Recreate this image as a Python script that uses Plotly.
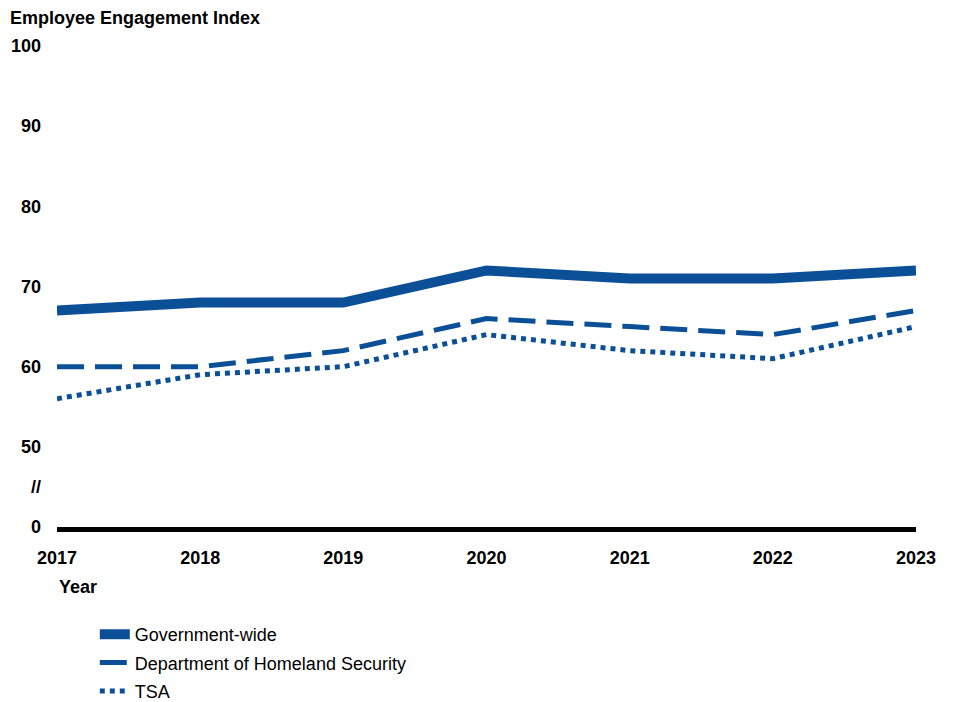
import plotly.graph_objects as go

years = [2017, 2018, 2019, 2020, 2021, 2022, 2023]
gov_wide = [67, 68, 68, 72, 71, 71, 72]
dhs = [60, 60, 62, 66, 65, 64, 67]
tsa = [56, 59, 60, 64, 62, 61, 65]

y_tickvals = [40, 45, 50, 60, 70, 80, 90, 100]
y_ticktext = ["0", "//", "50", "60", "70", "80", "90", "100"]

BLUE = "#0b4f96"
FONT = "Liberation Sans, Arial, sans-serif"

fig = go.Figure()
fig.add_trace(go.Scatter(x=years, y=gov_wide, mode="lines", name="Government-wide",
                         legendgroup="g0", line=dict(color=BLUE, width=10)))
fig.add_trace(go.Scatter(x=years, y=dhs, mode="lines", name="Department of Homeland Security",
                         legendgroup="g1", line=dict(color=BLUE, width=5, dash="27px,11px")))
fig.add_trace(go.Scatter(x=years, y=tsa, mode="lines", name="TSA",
                         legendgroup="g2", line=dict(color=BLUE, width=5, dash="5px,5px")))

fig.update_layout(
    width=956, height=702,
    margin=dict(l=49, r=48, t=38, b=183),
    paper_bgcolor="white", plot_bgcolor="white",
    font=dict(family=FONT, size=18, color="black"),
    title=dict(text="<b>Employee Engagement Index</b>", x=2/956, xanchor="left",
               xref="container", y=1-3/702, yanchor="top", yref="container",
               pad=dict(t=0, b=0, l=0, r=0),
               font=dict(size=18, color="black")),
    showlegend=True,
    legend=dict(x=0.044, xanchor="left", xref="paper",
                y=1-608/702, yanchor="top", yref="container",
                font=dict(size=18, color="black"), tracegroupgap=2,
                bgcolor="rgba(0,0,0,0)"),
    annotations=[dict(text="<b>Year</b>", x=0, xref="paper", xanchor="left",
                      y=-60/481, yref="paper", yanchor="middle", showarrow=False,
                      font=dict(size=18, color="black"))],
)
fig.update_xaxes(range=[2017, 2023], tickvals=years, ticktext=[f"<b>{y}</b>" for y in years],
                 showgrid=False, zeroline=False, showline=True, linecolor="black",
                 linewidth=5, ticks="", ticklabelstandoff=10, automargin=False,
                 tickfont=dict(size=18, color="black"))
fig.update_yaxes(range=[40, 100], tickvals=y_tickvals,
                 ticktext=[f"<b>{t}</b>" for t in y_ticktext],
                 showgrid=False, zeroline=False, showline=False, ticks="",
                 ticklabelstandoff=15, automargin=False,
                 tickfont=dict(size=18, color="black"))

fig.write_html("out.html")
